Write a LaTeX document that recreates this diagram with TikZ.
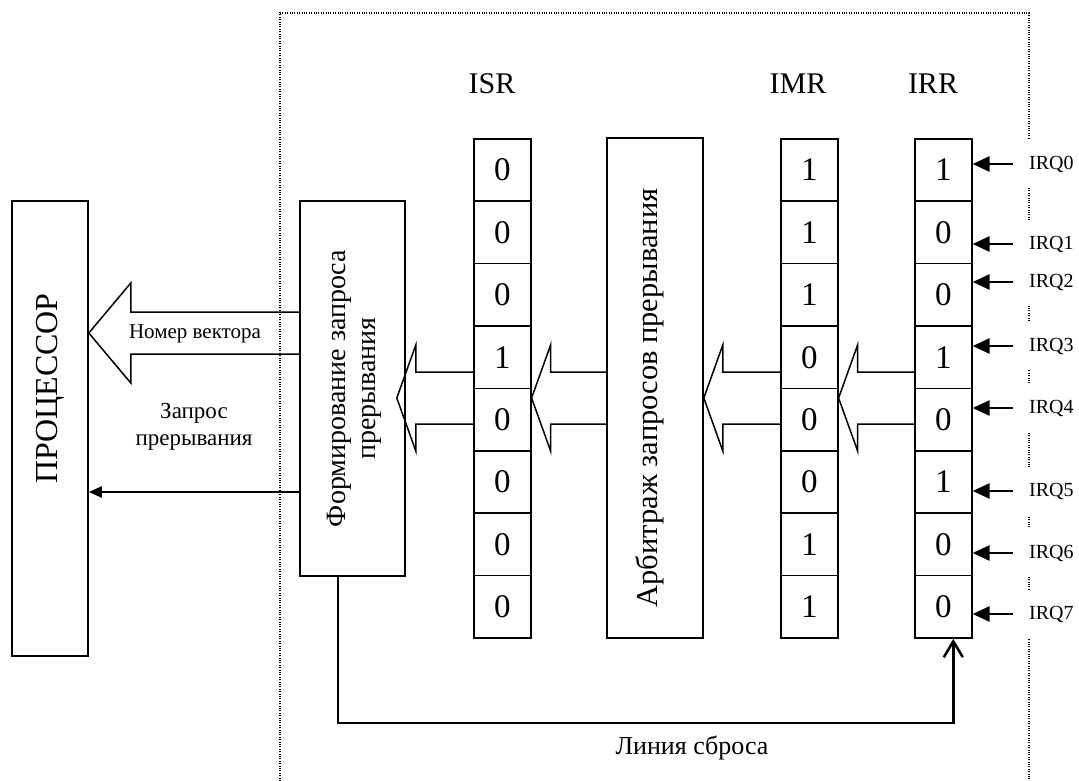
\documentclass[tikz,border=0pt]{standalone}
\usepackage{fontspec}
\setmainfont{Liberation Serif}
\usepackage{graphicx}
\usetikzlibrary{arrows.meta, calc, positioning}

\newcommand{\fatarrow}[5]{% tail, tip, head length, shaft half, head half
  \draw[fat] let \p1=(#1), \p2=(#2) in
    (\x1,\y2+#4pt) -- (\x2+#3pt,\y2+#4pt) -- (\x2+#3pt,\y2+#5pt) -- (\x2,\y2)
    -- (\x2+#3pt,\y2-#5pt) -- (\x2+#3pt,\y2-#4pt) -- (\x1,\y2-#4pt);
}

\tikzset{
  cell/.style={draw, line width=1.6pt, minimum width=57pt, minimum height=62.4pt,
    inner sep=0pt, anchor=north west, font=\fontsize{33}{36}\selectfont},
  blok/.style={draw, line width=1.6pt, inner sep=0pt},
  fat/.style={line width=1.5pt, line join=miter},
  irq/.style={-{Triangle[length=17pt,width=15pt]}, line width=2.6pt},
  irqlab/.style={fill=white, anchor=west, inner xsep=3pt, minimum height=48pt,
    font=\fontsize{20}{22}\selectfont},
  reglab/.style={font=\fontsize{30}{32}\selectfont},
  vtext/.style={rotate=90, align=center},
}

\begin{document}
\begin{tikzpicture}[x=1pt, y=-1pt]
\useasboundingbox (0,0) rectangle (1079,781);

% dotted border of the controller
\draw[line width=1.3pt, dash pattern=on 1pt off 1.4pt]
    (280,781) -- (280,13) -- (1029,13) -- (1029,781);

% registers
\def\cellh{62.4}
\foreach \v [count=\i from 0] in {0,0,0,1,0,0,0,0}
    \node[cell] (isr\i) at (473,{138+\i*\cellh}) {\v};
\foreach \v [count=\i from 0] in {1,1,1,0,0,0,1,1}
    \node[cell] (imr\i) at (780,{138+\i*\cellh}) {\v};
\foreach \v [count=\i from 0] in {1,0,0,1,0,1,0,0}
    \node[cell] (irr\i) at (914,{138+\i*\cellh}) {\v};

\node[reglab] (isrlab) at (492,84) {ISR};
\node[reglab] (imrlab) at (798,84) {IMR};
\node[reglab] (irrlab) at (933,84) {IRR};

% blocks
\node[blok, minimum width=76pt, minimum height=455pt] (proc) at (50,428.5) {};
\node[vtext, font=\fontsize{32}{34}\selectfont] (proctxt)
    at ($(proc.center)+(0,-40)$) {ПРОЦЕССОР};
\node[blok, minimum width=105pt, minimum height=375pt] (form) at (352.5,388.5) {};
\node[vtext, font=\fontsize{28}{30}\selectfont] (formtxt)
    at ($(form.center)+(2,0)$) {Формирование запроса\\прерывания};
\node[blok, minimum width=96pt, minimum height=500pt] (arb) at (655,388) {};
\node[vtext, font=\fontsize{30.5}{32}\selectfont] (arbtxt)
    at ($(arb.center)+(-5,10)$) {Арбитраж запросов прерывания};

% wide buses
\coordinate (vecy) at (0,333);
\coordinate (busy) at (0,398);
\fatarrow{form.west}{proc.east |- vecy}{42}{21}{50}
\node[font=\fontsize{21}{23}\selectfont] (veclab) at (195,334) {Номер вектора};
\fatarrow{isr0.west}{$(form.east |- busy)+(-9,0)$}{19}{26}{53}
\fatarrow{arb.west}{isr0.east |- busy}{19}{26}{53}
\fatarrow{imr0.west}{arb.east |- busy}{19}{26}{53}
\fatarrow{irr0.west}{imr0.east |- busy}{19}{26}{53}

% interrupt request to the processor
\coordinate (reqy) at (0,492);
\draw[-{Triangle[length=13pt,width=11pt]}, line width=2.4pt]
    (form.west |- reqy) -- (proc.east |- reqy);
\node[font=\fontsize{23}{27}\selectfont, align=center] (reqlab) at (194,427)
    {Запрос\\прерывания};

% IRQ inputs
\foreach \y [count=\i from 0] in {164,244,282,346,408,491,553,614} {
    \node[irqlab] (irq\i) at (1026,\y) {IRQ\i};
    \coordinate (irqin\i) at (1013,\y);
    \draw[irq] (irqin\i) -- (irqin\i -| irr0.east);
}

% reset line
\coordinate (rstc) at ($(irr7.south)+(10,84)$);
\draw[line width=2.5pt, -{Straight Barb[length=16pt,width=19pt]}]
    ($(form.south)+(-14.5,0)$) |- (rstc) -- ($(irr7.south)+(10,0)$);
\node[font=\fontsize{26}{28}\selectfont] (rstlab) at (692,748) {Линия сброса};
\end{tikzpicture}
\end{document}
